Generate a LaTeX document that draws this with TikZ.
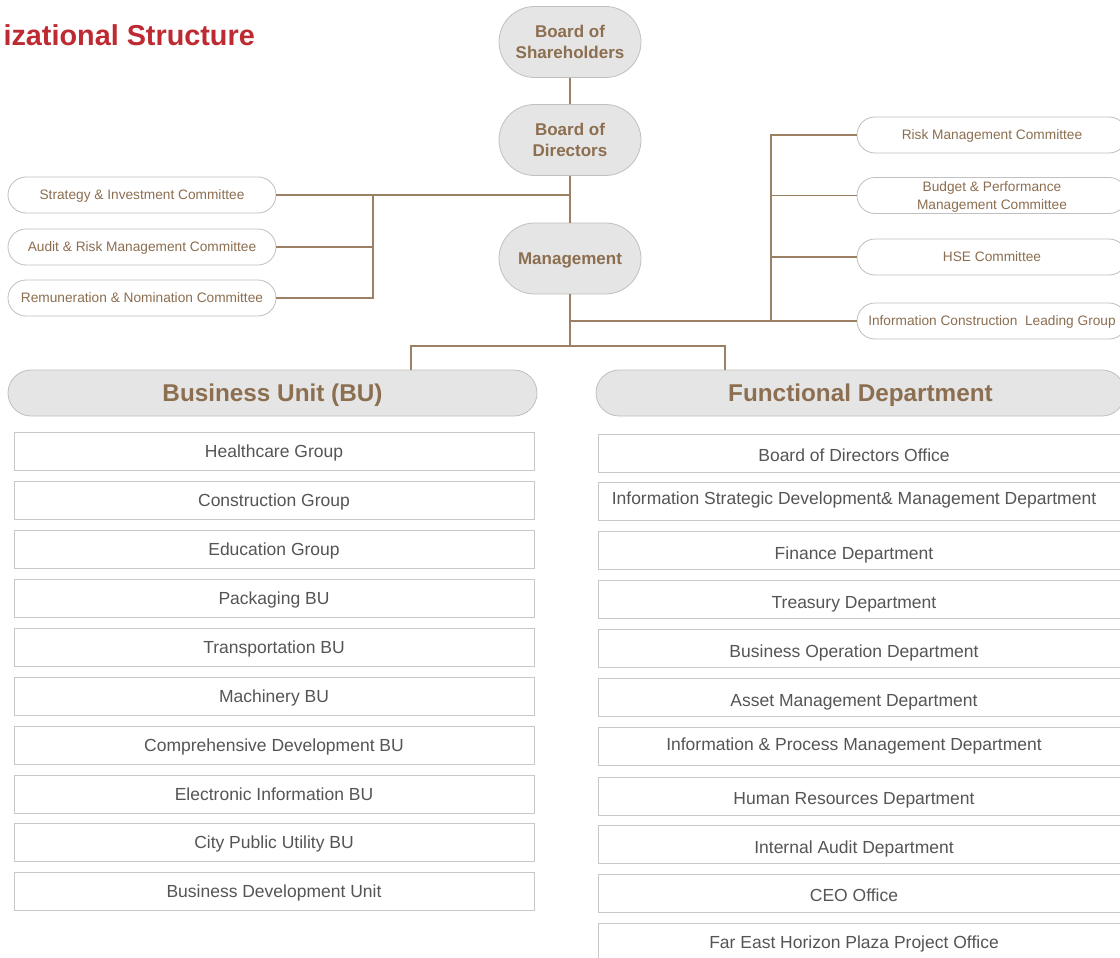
\documentclass[tikz,border=0pt]{standalone}
\usepackage{fontspec}
\setmainfont{Liberation Sans}
\usetikzlibrary{shapes.misc}
\definecolor{titlered}{RGB}{190,42,50}
\definecolor{brownt}{RGB}{140,110,80}
\definecolor{linec}{RGB}{155,128,100}
\definecolor{grayfill}{RGB}{229,229,229}
\definecolor{grayedge}{RGB}{192,192,192}
\definecolor{boxedge}{RGB}{200,200,200}
\definecolor{boxtext}{RGB}{85,85,85}
\begin{document}
\begin{tikzpicture}[x=1pt,y=-1pt,
 topoval/.style={rounded rectangle, draw=grayedge, fill=grayfill, line width=0.8pt, minimum width=142pt, minimum height=71pt, inner sep=0pt, align=center, text depth=0pt, text=brownt, font=\fontsize{17}{21.5}\selectfont\bfseries},
 comm/.style={rounded rectangle, draw=grayedge, fill=white, line width=0.8pt, minimum width=268pt, minimum height=36pt, inner sep=0pt, align=center, text depth=0pt, text=brownt, font=\fontsize{13.7}{17.5}\selectfont},
 header/.style={rounded rectangle, draw=grayedge, fill=grayfill, line width=0.8pt, minimum width=529pt, minimum height=46pt, inner sep=0pt, text depth=0pt, text=brownt, font=\fontsize{24.3}{28}\selectfont\bfseries},
 unitbox/.style={rectangle, draw=boxedge, fill=white, line width=1pt, minimum width=520pt, minimum height=38pt, inner sep=0pt, text depth=0pt, text=boxtext, font=\fontsize{17.5}{21}\selectfont},
 deptbox/.style={rectangle, draw=boxedge, fill=white, line width=1pt, minimum width=532pt, minimum height=38pt, inner sep=0pt},
 depttext/.style={text=boxtext, font=\fontsize{17.5}{21}\selectfont, inner sep=0pt, text depth=0pt},
 conn/.style={draw=linec, line width=1.2pt}
]
\useasboundingbox (0,0) rectangle (1120,958);
\clip (0,0) rectangle (1120,958);
\fill[white] (0,0) rectangle (1120,958);

\node[anchor=base east, text=titlered, font=\fontsize{28.8}{31}\selectfont\bfseries, inner sep=0pt] (title) at (255,46) {izational Structure};

\node[topoval] (bos) at (570,42) {Board of\\Shareholders};
\node[topoval] (bod) at (570,140) {Board of\\Directors};
\node[topoval] (mgmt) at (570,258.5) {Management};

\node[comm] (sic) at (142,195) {Strategy \& Investment Committee};
\node[comm] (arm) at (142,247) {Audit \& Risk Management Committee};
\node[comm] (rnc) at (142,298) {Remuneration \& Nomination Committee};

\node[comm,minimum width=270pt] (rmc) at (992,135) {Risk Management Committee};
\node[comm,minimum width=270pt] (bpm) at (992,195.5) {Budget \& Performance\\Management Committee};
\node[comm,minimum width=270pt] (hse) at (992,257) {HSE Committee};
\node[comm,minimum width=270pt] (icl) at (992,321) {Information Construction\ \ Leading Group};

\node[header] (bu) at (272.5,393) {Business Unit (BU)};
\node[header] (fd) at (860.5,393) {Functional Department};

\foreach \n/\y/\t in {1/451/Healthcare Group, 2/500/Construction Group, 3/549/Education Group, 4/598/Packaging BU, 5/647/Transportation BU, 6/696/Machinery BU, 7/745/Comprehensive Development BU, 8/794/Electronic Information BU, 9/842/City Public Utility BU, 10/891/Business Development Unit}
  \node[unitbox] (u\n) at (274,\y) {\t};

\foreach \n/\y/\ty/\t in {1/453/455/Board of Directors Office, 2/501/498/Information Strategic Development\& Management Department, 3/550.5/553/Finance Department, 4/599.5/602/Treasury Department, 5/648.5/651/Business Operation Department, 6/697.5/700/Asset Management Department, 7/746.5/744/Information \& Process Management Department, 8/796/798/Human Resources Department, 9/844.5/847/Internal Audit Department, 10/893.5/895/CEO Office, 11/942/942/Far East Horizon Plaza Project Office}
  {\node[deptbox] (d\n) at (864,\y) {};
   \node[depttext] (dt\n) at (854,\ty) {\t};}

\coordinate (lbus) at (373,195);
\coordinate (rbus) at (771,321);
\coordinate (mj) at (570,346);
\coordinate (bj) at (411,346);
\coordinate (fj) at (725,346);

\draw[conn] (bos.south) -- (bod.north);
\draw[conn] (bod.south) -- (mgmt.north);
\draw[conn] (sic.east) -- (sic.east -| bod.south);
\draw[conn] (arm.east) -- (arm.east -| lbus) -- (lbus);
\draw[conn] (rnc.east) -- (rnc.east -| lbus) -- (lbus);
\draw[conn] (mgmt.south) -- (mj);
\draw[conn] (icl.west) -- (icl.west -| mgmt.south);
\draw[conn] (rmc.west) -| (rbus);
\draw[conn] (bpm.west) -- (bpm.west -| rbus);
\draw[conn] (hse.west) -- (hse.west -| rbus);
\draw[conn] (bj |- bu.north) -- (bj) -- (fj) -- (fj |- fd.north);
\end{tikzpicture}
\end{document}
